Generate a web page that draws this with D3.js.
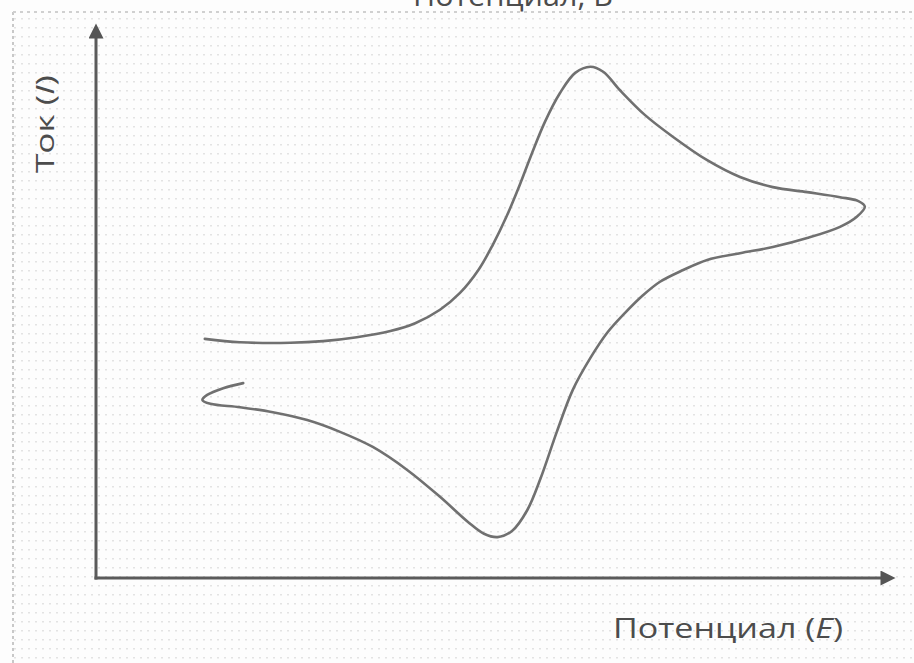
<!DOCTYPE html>
<html>
<head>
<meta charset="utf-8">
<script src="https://cdn.jsdelivr.net/npm/d3@7"></script>
<style>
  html, body { margin: 0; padding: 0; background: #fdfdfd; }
  svg { display: block; }
  text { font-family: "Open Sans", "Noto Sans", sans-serif; fill: #4c4c4c; }
</style>
</head>
<body>
<svg id="chart" width="914" height="663"></svg>
<script>
// ---- Data (arbitrary units) ----
const title = "Потенциал, В";
const xLabel = "Потенциал";
const xLabelSym = "E";
const yLabel = "Ток";
const yLabelSym = "I";

// forward scan (upper branch), then reverse scan (lower branch)
const potential = [
  1.36, 1.80, 2.43, 2.84, 3.26, 3.68, 3.99, 4.30, 4.55, 4.78, 4.96, 5.13, 5.28, 5.44, 5.61, 5.80, 5.99, 6.18, 6.34, 6.55, 6.86, 7.21, 7.64, 8.05, 8.46, 8.89, 9.30, 9.53, 9.61,
  9.51, 9.30, 8.89, 8.46, 8.05, 7.64, 7.34, 7.05, 6.83, 6.61, 6.39, 6.18, 5.96, 5.76, 5.56, 5.39, 5.20, 5.02, 4.85, 4.65, 4.30, 3.89, 3.46, 3.05, 2.64, 2.21, 1.80, 1.43, 1.33, 1.39, 1.59, 1.84
];
const current = [
  4.27, 4.21, 4.20, 4.23, 4.30, 4.41, 4.55, 4.79, 5.09, 5.50, 5.95, 6.45, 6.96, 7.55, 8.14, 8.66, 9.02, 9.13, 9.04, 8.71, 8.27, 7.88, 7.46, 7.16, 6.98, 6.89, 6.80, 6.73, 6.63,
  6.45, 6.27, 6.07, 5.91, 5.80, 5.68, 5.50, 5.29, 5.04, 4.73, 4.38, 3.93, 3.36, 2.61, 1.79, 1.21, 0.84, 0.73, 0.79, 1.00, 1.45, 1.93, 2.34, 2.61, 2.82, 2.96, 3.05, 3.11, 3.18, 3.27, 3.39, 3.48
];

// ---- Drawing ----
const svg = d3.select("#chart");
const W = 914, H = 663;
const defs = svg.append("defs");

// faint dotted paper texture
const pat = defs.append("pattern")
  .attr("id", "dots").attr("patternUnits", "userSpaceOnUse")
  .attr("width", 7).attr("height", 9);
pat.append("rect").attr("x", 0).attr("y", 0).attr("width", 2).attr("height", 1.5).attr("fill", "#e3e3e3");
svg.append("rect").attr("x", 13).attr("y", 12).attr("width", W - 13).attr("height", H - 12).attr("fill", "url(#dots)");

// dashed frame lines (left and top)
svg.append("line").attr("x1", 13).attr("x2", 13).attr("y1", 12).attr("y2", H)
  .attr("stroke", "#c8c8c8").attr("stroke-width", 2).attr("stroke-dasharray", "3,3");
svg.append("line").attr("x1", 13).attr("x2", W).attr("y1", 12).attr("y2", 12)
  .attr("stroke", "#d0d0d0").attr("stroke-width", 2).attr("stroke-dasharray", "3,4");

// arrowhead marker
defs.append("marker")
  .attr("id", "arrow").attr("viewBox", "0 0 10 10")
  .attr("refX", 1).attr("refY", 5)
  .attr("markerWidth", 6.5).attr("markerHeight", 5)
  .attr("markerUnits", "strokeWidth")
  .attr("orient", "auto")
  .append("path").attr("d", "M0,0 L10,5 L0,10 Z").attr("fill", "#555");

const x = d3.scaleLinear().domain([0, 10]).range([96, 896]);
const y = d3.scaleLinear().domain([0, 10]).range([578, 18]);

const xAxis = svg.append("g").attr("transform", `translate(0,${y(0)})`)
  .call(d3.axisBottom(x).ticks(0).tickSizeOuter(0));
xAxis.select(".domain").attr("stroke", "#5a5a5a").attr("stroke-width", 3)
  .attr("d", `M${x(0) - 1.5},0H${x(10) - 14}`)
  .attr("marker-end", "url(#arrow)");

const yAxis = svg.append("g").attr("transform", `translate(${x(0)},0)`)
  .call(d3.axisLeft(y).ticks(0).tickSizeOuter(0));
yAxis.select(".domain").attr("stroke", "#5a5a5a").attr("stroke-width", 3)
  .attr("d", `M0,${y(0) + 1.5}V${y(10) + 19}`)
  .attr("marker-end", "url(#arrow)");

// curve
const pts = potential.map((e, i) => [e, current[i]]);
const line = d3.line().x(d => x(d[0])).y(d => y(d[1])).curve(d3.curveCatmullRom.alpha(0.5));
svg.append("path").datum(pts).attr("d", line)
  .attr("fill", "none").attr("stroke", "#707070").attr("stroke-width", 2.6)
  .attr("stroke-linejoin", "round").attr("stroke-linecap", "round");

// labels
svg.append("text").attr("x", 413).attr("y", 6).attr("font-size", 30)
  .attr("textLength", 200).attr("lengthAdjust", "spacingAndGlyphs").text(title);

const xl = svg.append("text").attr("x", 613).attr("y", 638).attr("font-size", 28)
  .attr("textLength", 230).attr("lengthAdjust", "spacingAndGlyphs");
xl.append("tspan").text(xLabel + " (");
xl.append("tspan").attr("font-style", "italic").text(xLabelSym);
xl.append("tspan").text(")");

const yl = svg.append("text").attr("transform", "translate(54,173) rotate(-90)")
  .attr("font-size", 26).attr("textLength", 98).attr("lengthAdjust", "spacingAndGlyphs");
yl.append("tspan").text(yLabel + " (");
yl.append("tspan").attr("font-style", "italic").text(yLabelSym);
yl.append("tspan").text(")");
</script>
</body>
</html>
